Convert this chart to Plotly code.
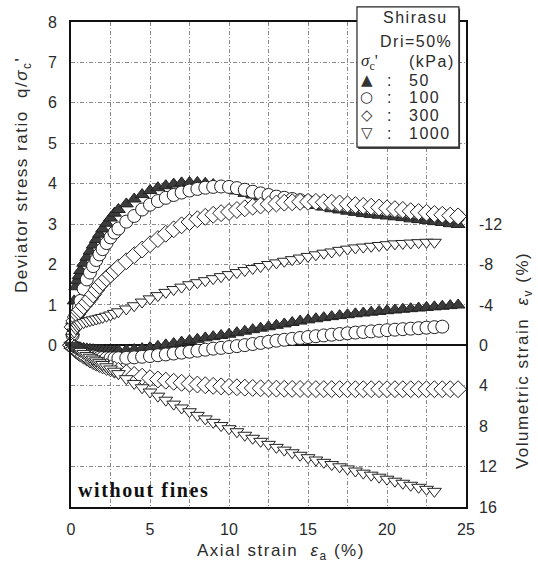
import plotly.graph_objects as go

# ---------------- data ----------------
STRAIN = [0, 0.1, 0.2, 0.3, 0.4, 0.5, 0.6, 0.8, 1.0, 1.2, 1.4, 1.6, 1.8, 2.0,
          2.25, 2.5, 2.75, 3.0, 3.5, 4.0, 4.5, 5.0, 5.5, 6.0, 6.5, 7.0, 7.5,
          8.0, 8.5, 9.0, 9.5, 10.0, 10.5, 11.0, 11.5, 12.0, 12.5, 13.0, 13.5,
          14.0, 14.5, 15.0, 15.5, 16.0, 16.5, 17.0, 17.5, 18.0, 18.5, 19.0,
          19.5, 20.0, 20.5, 21.0, 21.5, 22.0, 22.5, 23.0, 23.5, 24.0, 24.5]

# deviator stress ratio q/sigma_c'
Q_50 = [0.0, 0.6, 1.1, 1.45, 1.6, 1.72, 1.85,
        2.03, 2.18, 2.33, 2.48, 2.62, 2.75, 2.88,
        3.02, 3.15, 3.27, 3.36,
        3.5, 3.62, 3.73, 3.83, 3.9, 3.95, 3.99, 4.02, 4.03, 4.03,
        4.01, 3.98, 3.93, 3.88, 3.82, 3.76, 3.72, 3.68, 3.65, 3.62,
        3.59, 3.56, 3.53, 3.5, 3.46, 3.42, 3.38, 3.35, 3.32, 3.29,
        3.26, 3.24, 3.22, 3.2, 3.18, 3.16, 3.13, 3.11, 3.09, 3.06,
        3.04, 3.01, 2.99]
Q_100 = [0.0, 0.25, 0.47, 0.63, 0.8, 0.94, 1.1,
         1.4, 1.63, 1.8, 1.96, 2.11, 2.25, 2.38,
         2.53, 2.67, 2.79, 2.89,
         3.06, 3.2, 3.36, 3.48, 3.57, 3.65, 3.72, 3.78, 3.83, 3.87,
         3.9, 3.92, 3.93, 3.92, 3.89, 3.85, 3.8, 3.76, 3.72, 3.68,
         3.65, 3.62, 3.59, 3.56, 3.54, 3.51, 3.49, 3.47, 3.45, 3.43,
         3.41, 3.39, 3.37, 3.35, 3.33, 3.31, 3.29, 3.27, 3.26, 3.24,
         3.22, 3.2, 3.18]
Q_300 = [0.0, 0.45, 0.6, 0.7, 0.77, 0.83, 0.88,
         0.97, 1.06, 1.15, 1.26, 1.37, 1.47, 1.56,
         1.66, 1.75, 1.84, 1.93,
         2.08, 2.23, 2.37, 2.5, 2.63, 2.76, 2.87, 2.97, 3.05, 3.12,
         3.18, 3.23, 3.27, 3.3, 3.35, 3.39, 3.43, 3.46, 3.49, 3.51,
         3.53, 3.54, 3.55, 3.55, 3.55, 3.54, 3.53, 3.51, 3.49, 3.47,
         3.45, 3.43, 3.41, 3.39, 3.37, 3.35, 3.32, 3.3, 3.28, 3.25,
         3.23, 3.21, 3.19]
Q_1000 = [0.0, 0.2, 0.33, 0.41, 0.46, 0.5, 0.53,
          0.56, 0.59, 0.61, 0.63, 0.65, 0.67, 0.69,
          0.72, 0.75, 0.79, 0.83,
          0.9, 0.98, 1.07, 1.15, 1.23, 1.31, 1.38, 1.44, 1.5, 1.55,
          1.6, 1.65, 1.7, 1.75, 1.8, 1.85, 1.9, 1.95, 2.0, 2.04,
          2.08, 2.12, 2.16, 2.2, 2.24, 2.28, 2.31, 2.35, 2.38, 2.41,
          2.43, 2.45, 2.47, 2.49, 2.51, 2.52, 2.53, 2.54, 2.55, 2.55]

# volumetric strain eps_v (%) (compression positive)
EV_50 = [0.0, 0.05, 0.1, 0.14, 0.18, 0.22, 0.25,
         0.3, 0.35, 0.4, 0.43, 0.46, 0.48, 0.5,
         0.51, 0.52, 0.52, 0.51,
         0.48, 0.42, 0.33, 0.22, 0.1, -0.05, -0.18, -0.32, -0.46, -0.6,
         -0.74, -0.86, -0.98, -1.1, -1.25, -1.4, -1.55, -1.7, -1.84, -1.98,
         -2.12, -2.26, -2.4, -2.52, -2.63, -2.74, -2.84, -2.94, -3.03, -3.12,
         -3.2, -3.28, -3.36, -3.43, -3.5, -3.57, -3.63, -3.69, -3.75, -3.81,
         -3.87, -3.93, -3.99]
EV_100 = [0.0, 0.12, 0.24, 0.35, 0.45, 0.55, 0.64,
          0.8, 0.93, 1.03, 1.11, 1.17, 1.22, 1.25,
          1.27, 1.28, 1.28, 1.27,
          1.24, 1.19, 1.13, 1.06, 0.98, 0.9, 0.81, 0.72, 0.63, 0.53,
          0.43, 0.33, 0.25, 0.17, 0.08, -0.02, -0.13, -0.24, -0.35, -0.46,
          -0.55, -0.64, -0.73, -0.82, -0.9, -0.98, -1.05, -1.12, -1.19, -1.26,
          -1.32, -1.38, -1.44, -1.5, -1.55, -1.6, -1.65, -1.7, -1.75, -1.8,
          -1.85]
EV_300 = [0.0, 0.15, 0.3, 0.45, 0.58, 0.7, 0.82,
          1.03, 1.22, 1.4, 1.56, 1.71, 1.85, 1.98,
          2.13, 2.27, 2.4, 2.52,
          2.74, 2.93, 3.1, 3.25, 3.38, 3.5, 3.61, 3.71, 3.8, 3.88,
          3.95, 4.01, 4.06, 4.11, 4.15, 4.19, 4.22, 4.25, 4.27, 4.29,
          4.3, 4.31, 4.32, 4.32, 4.33, 4.33, 4.33, 4.33, 4.34, 4.34,
          4.34, 4.34, 4.34, 4.34, 4.34, 4.34, 4.34, 4.34, 4.34, 4.34,
          4.34, 4.34, 4.34]
EV_1000 = [0.0, 0.1, 0.2, 0.3, 0.4, 0.5, 0.6,
           0.8, 1.0, 1.18, 1.36, 1.54, 1.72, 1.9,
           2.12, 2.34, 2.56, 2.8,
           3.3, 3.77, 4.2, 4.62, 5.03, 5.43, 5.82, 6.2, 6.57, 6.93,
           7.28, 7.62, 7.94, 8.25, 8.55, 8.9, 9.2, 9.5, 9.8, 10.1,
           10.37, 10.63, 10.88, 11.12, 11.35, 11.58, 11.8, 12.02, 12.23, 12.44,
           12.65, 12.85, 13.05, 13.25, 13.45, 13.65, 13.85, 14.05, 14.25, 14.45]

X_TICKS = [0, 5, 10, 15, 20, 25]
Y_TICKS = [0, 1, 2, 3, 4, 5, 6, 7, 8]
Y2_TICKS = [-12, -8, -4, 0, 4, 8, 12, 16]
Y2_TICKTEXT = ["-12", "-8", "-4", "0", "4", "8", "12", "16"]
LEGEND_LABELS = ["50", "100", "300", "1000"]

# ---------------- styling ----------------
FONT = "Liberation Sans, Arial, sans-serif"
DARK = "#2b2b2b"
SERIES = [
    (Q_50, EV_50, dict(symbol="triangle-up", size=12, color="#3c3c3c",
                       line=dict(color="#222", width=1))),
    (Q_100, EV_100, dict(symbol="circle", size=13, color="white",
                         line=dict(color="#222", width=1))),
    (Q_300, EV_300, dict(symbol="diamond", size=13, color="white",
                         line=dict(color="#222", width=1))),
    (Q_1000, EV_1000, dict(symbol="triangle-down", size=12, color="white",
                           line=dict(color="#222", width=1))),
]

fig = go.Figure()
for q, ev, mk in SERIES:
    fig.add_trace(go.Scatter(x=STRAIN[:len(ev)], y=ev, yaxis="y2", mode="markers",
                             marker=mk, cliponaxis=False, showlegend=False,
                             hoverinfo="skip"))
for q, ev, mk in SERIES:
    fig.add_trace(go.Scatter(x=STRAIN[:len(q)], y=q, mode="markers",
                             marker=mk, cliponaxis=False, showlegend=False,
                             hoverinfo="skip"))

def ls(text, sp=1.5):
    return f'<span style="letter-spacing:{sp}px">{text}</span>'

GRID = dict(showgrid=True, gridcolor="#8a8a8a", gridwidth=0.8, griddash="4px,2px,1px,2px")

fig.update_layout(
    width=538, height=570,
    margin=dict(l=71, r=72, t=22, b=63),
    paper_bgcolor="white", plot_bgcolor="white",
    font=dict(family=FONT, size=16, color=DARK),
    xaxis=dict(range=[0, 25], tickvals=X_TICKS, ticks="",
               showline=True, linecolor="#111", linewidth=1.6, mirror=True,
               zeroline=False, ticklabelstandoff=7, **GRID,
               minor=dict(tick0=0, dtick=2.5, ticks="", **GRID)),
    yaxis=dict(range=[-4, 8], tickvals=Y_TICKS, ticks="",
               showline=True, linecolor="#111", linewidth=1.6, mirror=True,
               zeroline=True, zerolinecolor="#111", zerolinewidth=1.6,
               ticklabelstandoff=9, **GRID,
               minor=dict(tick0=0, dtick=1, ticks="", **GRID)),
    yaxis2=dict(range=[16, -32], overlaying="y", side="right",
                tickvals=Y2_TICKS, ticktext=Y2_TICKTEXT, ticks="", showgrid=False,
                zeroline=False, showline=False, ticklabelstandoff=12),
)

ann = []
# axis titles
ann.append(dict(text=ls("Deviator stress ratio\u00a0\u00a0q/<i>σ</i><sub>c</sub>'"),
                x=-0.1215, y=0.6845, textangle=-90, font=dict(size=17)))
ann.append(dict(text=ls("Volumetric strain\u00a0\u00a0<i>ε</i><sub>v</sub>\u00a0(%)"),
                x=1.1468, y=0.303, textangle=-90, font=dict(size=17)))
ann.append(dict(text=ls("Axial strain\u00a0\u00a0<i>ε</i><sub>a</sub>\u00a0(%)"),
                x=0.5316, y=-0.0928, font=dict(size=17)))
ann.append(dict(text=ls("<b>without fines</b>", 1.6), x=0.0127, y=0.035,
                xanchor="left", font=dict(family="Liberation Serif, Times New Roman, serif",
                                          size=20, color="#111")))
# legend box text
ann.append(dict(text=ls("Shirasu"), x=0.873, y=1.010, font=dict(size=16)))
ann.append(dict(text=ls("Dri=50%"), x=0.873, y=0.959, font=dict(size=16)))
ann.append(dict(text="<i>σ</i><sub>c</sub>'", x=0.729, y=0.918, xanchor="left",
                font=dict(size=17, family="Liberation Serif, serif")))
ann.append(dict(text=ls("(kPa)"), x=0.851, y=0.918, xanchor="left", font=dict(size=16)))
SYMS = ["▲", "○", "◇", "▽"]
ROWS = [0.880, 0.845, 0.808, 0.771]
for s, lab, yy in zip(SYMS, LEGEND_LABELS, ROWS):
    ann.append(dict(text=s, x=0.749, y=yy, borderpad=0,
                    font=dict(size=15, family="DejaVu Sans", color="#333")))
    ann.append(dict(text=":", x=0.805, y=yy, borderpad=0, font=dict(size=16)))
    ann.append(dict(text=ls(lab), x=0.852, y=yy, xanchor="left", borderpad=0,
                    font=dict(size=16)))

for a in ann:
    a.setdefault("xanchor", "center")
    a.setdefault("yanchor", "middle")
    a.update(xref="paper", yref="paper", showarrow=False)
fig.update_layout(annotations=ann)

fig.update_layout(shapes=[
    dict(type="rect", xref="paper", yref="paper", x0=0.727, x1=0.985, y0=0.738, y1=1.028,
         fillcolor="#444", line=dict(width=0), layer="above"),
    dict(type="rect", xref="paper", yref="paper", x0=0.724, x1=0.982, y0=0.742, y1=1.031,
         fillcolor="white", line=dict(color="#222", width=1.2), layer="above"),
])

fig.write_html("out.html")
